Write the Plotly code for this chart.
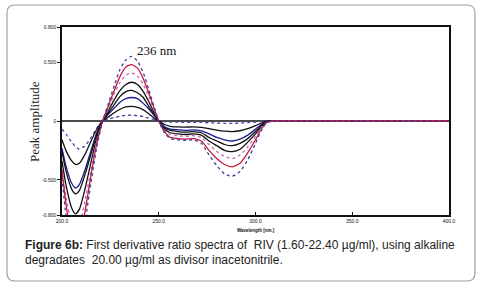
import plotly.graph_objects as go

# Wavelength grid (nm)
wavelength = [200, 202, 205, 207, 209, 212, 215, 218, 221,
              224, 227, 230, 233, 236, 239, 242, 245, 248, 250,
              253, 256, 260, 264, 268, 272, 276, 280, 284, 288, 292, 296, 300, 303, 306, 310,
              320, 340, 360, 380, 400]

# First-derivative ratio amplitudes, smallest to largest concentration
c1 = [-0.07, -0.11, -0.18, -0.22, -0.24, -0.21, -0.14, -0.06, 0,
      0.015, 0.03, 0.04, 0.048, 0.05, 0.046, 0.037, 0.024, 0.01, 0,
      -0.006, -0.009, -0.01, -0.011, -0.011, -0.012, -0.015, -0.018, -0.02, -0.02, -0.018, -0.014, -0.009, -0.004, 0, 0,
      0.002, -0.001, 0.001, 0, 0.001]
c2 = [-0.16, -0.25, -0.34, -0.37, -0.36, -0.28, -0.17, -0.07, 0,
      0.035, 0.07, 0.10, 0.12, 0.125, 0.115, 0.095, 0.06, 0.02, 0,
      -0.03, -0.045, -0.05, -0.052, -0.05, -0.055, -0.065, -0.077, -0.086, -0.09, -0.083, -0.065, -0.04, -0.017, -0.002, 0,
      0.001, 0, -0.001, 0, 0]
c3 = [-0.23, -0.38, -0.53, -0.57, -0.54, -0.41, -0.25, -0.10, 0,
      0.06, 0.11, 0.16, 0.19, 0.20, 0.19, 0.15, 0.10, 0.04, 0,
      -0.05, -0.07, -0.075, -0.08, -0.075, -0.085, -0.11, -0.14, -0.16, -0.17, -0.155, -0.12, -0.07, -0.03, -0.004, 0,
      0, 0.001, 0, 0, 0]
c4 = [-0.26, -0.42, -0.58, -0.62, -0.59, -0.45, -0.28, -0.11, 0,
      0.07, 0.14, 0.21, 0.25, 0.26, 0.24, 0.20, 0.12, 0.05, 0,
      -0.06, -0.08, -0.09, -0.095, -0.09, -0.10, -0.14, -0.17, -0.20, -0.21, -0.19, -0.15, -0.09, -0.04, -0.005, 0,
      0, 0, 0.001, 0, 0]
c5 = [-0.34, -0.54, -0.74, -0.79, -0.75, -0.57, -0.35, -0.14, 0,
      0.09, 0.18, 0.26, 0.31, 0.33, 0.31, 0.25, 0.16, 0.06, 0,
      -0.07, -0.10, -0.11, -0.115, -0.11, -0.12, -0.17, -0.21, -0.25, -0.26, -0.24, -0.18, -0.11, -0.045, -0.005, 0,
      0, 0, 0, 0.001, 0]
c6 = [-0.40, -0.64, -0.88, -0.95, -0.89, -0.67, -0.41, -0.17, 0,
      0.11, 0.23, 0.33, 0.39, 0.41, 0.38, 0.31, 0.20, 0.07, 0,
      -0.08, -0.115, -0.125, -0.13, -0.125, -0.14, -0.20, -0.26, -0.30, -0.32, -0.29, -0.22, -0.13, -0.055, -0.01, 0,
      0.002, 0, 0.001, 0, 0.001]
c7 = [-0.42, -0.70, -1.00, -1.08, -1.00, -0.76, -0.46, -0.19, 0,
      0.13, 0.26, 0.38, 0.46, 0.48, 0.45, 0.36, 0.23, 0.09, 0,
      -0.09, -0.14, -0.15, -0.155, -0.15, -0.17, -0.25, -0.32, -0.37, -0.39, -0.36, -0.27, -0.16, -0.07, -0.01, 0,
      0.001, 0.002, 0, 0.001, 0]
c8 = [-0.48, -0.80, -1.12, -1.20, -1.12, -0.85, -0.52, -0.22, 0,
      0.15, 0.30, 0.44, 0.52, 0.55, 0.51, 0.41, 0.26, 0.10, 0,
      -0.10, -0.15, -0.16, -0.165, -0.16, -0.19, -0.29, -0.38, -0.45, -0.47, -0.43, -0.33, -0.19, -0.08, -0.01, 0,
      0, 0.001, 0, 0.002, 0]

series = [c1, c2, c3, c4, c5, c6, c7, c8]
colors = ["#4a4aa8", "#111111", "#1c1c96", "#111111", "#111111", "#c764b4", "#c8183c", "#3c3ca0"]
dashes = ["dot", "solid", "solid", "solid", "solid", "dot", "solid", "dot"]

y_tickvals = [-0.8, -0.5, 0, 0.5, 0.8]
y_ticktext = ["-0.800", "-0.500", "0", "0.500", "0.800"]
x_tickvals = [200, 250, 300, 350, 400]
x_ticktext = ["200.0", "250.0", "300.0", "350.0", "400.0"]

fig = go.Figure()

# zero line
fig.add_trace(go.Scatter(x=[200, 400], y=[0, 0], mode="lines",
                         line=dict(color="#111111", width=1.5), hoverinfo="skip"))

for s, c, d in zip(series, colors, dashes):
    fig.add_trace(go.Scatter(x=wavelength, y=s, mode="lines",
                             line=dict(color=c, width=1.3, dash=d, shape="spline", smoothing=0.6)))

L, R, T, B = 62, 32, 27, 71
W, H = 481, 286
pw, ph = W - L - R, H - T - B

def px(xp):
    return (xp - L) / pw

def py(yp):
    return (H - B - yp) / ph

# rounded outer frame
x0, x1, y0, y1 = px(7), px(475), py(281), py(5)
rx, ry = 8 / pw, 8 / ph
path = (f"M {x0+rx},{y1} L {x1-rx},{y1} Q {x1},{y1} {x1},{y1-ry} "
        f"L {x1},{y0+ry} Q {x1},{y0} {x1-rx},{y0} L {x0+rx},{y0} "
        f"Q {x0},{y0} {x0},{y0+ry} L {x0},{y1-ry} Q {x0},{y1} {x0+rx},{y1} Z")
fig.add_shape(type="path", path=path, xref="paper", yref="paper",
              line=dict(color="#a0a0a0", width=1.2), layer="below")

fig.add_annotation(x=237.5, y=0.6, xref="x", yref="y", text="236 nm", showarrow=False,
                   xanchor="left", yanchor="middle",
                   font=dict(family="Liberation Serif", size=13, color="#111"))
fig.add_annotation(x=px(35), y=py(122), xref="paper", yref="paper", text="Peak amplitude",
                   showarrow=False, textangle=-90, xanchor="center", yanchor="middle",
                   font=dict(family="Liberation Serif", size=13, color="#222"))
fig.add_annotation(x=px(256), y=py(226), xref="paper", yref="paper",
                   xanchor="center", yanchor="top",
                   text="<b>Wavelength [nm.]</b>", showarrow=False,
                   font=dict(family="Liberation Sans", size=4.5, color="#111"))
fig.add_annotation(x=px(23), y=py(245), xref="paper", yref="paper",
                   xanchor="left", yanchor="middle",
                   text="<b>Figure 6b:</b> First derivative ratio spectra of  RIV (1.60-22.40 µg/ml), using alkaline",
                   showarrow=False, font=dict(family="Liberation Sans", size=12, color="#222"))
fig.add_annotation(x=px(23), y=py(260), xref="paper", yref="paper",
                   xanchor="left", yanchor="middle",
                   text="degradates  20.00 µg/ml as divisor inacetonitrile.",
                   showarrow=False, font=dict(family="Liberation Sans", size=12, color="#222"))

fig.update_layout(
    width=W, height=H, margin=dict(l=L, r=R, t=T, b=B),
    paper_bgcolor="white", plot_bgcolor="white", showlegend=False,
    xaxis=dict(range=[200, 400], tickvals=x_tickvals, ticktext=x_ticktext,
               showgrid=False, zeroline=False, showline=True, mirror=True,
               linecolor="#111", linewidth=1.5, ticks="inside", ticklen=3, tickcolor="#111",
               tickfont=dict(family="Liberation Sans", size=5, color="#111")),
    yaxis=dict(range=[-0.8, 0.8], tickvals=y_tickvals, ticktext=y_ticktext,
               showgrid=False, zeroline=False, showline=True, mirror=True,
               linecolor="#111", linewidth=1.5, ticks="outside", ticklen=3, tickcolor="#111",
               tickfont=dict(family="Liberation Sans", size=5, color="#111")),
)

fig.write_html("out.html", config={"displayModeBar": False},
               post_script="document.body.style.margin='0';")
